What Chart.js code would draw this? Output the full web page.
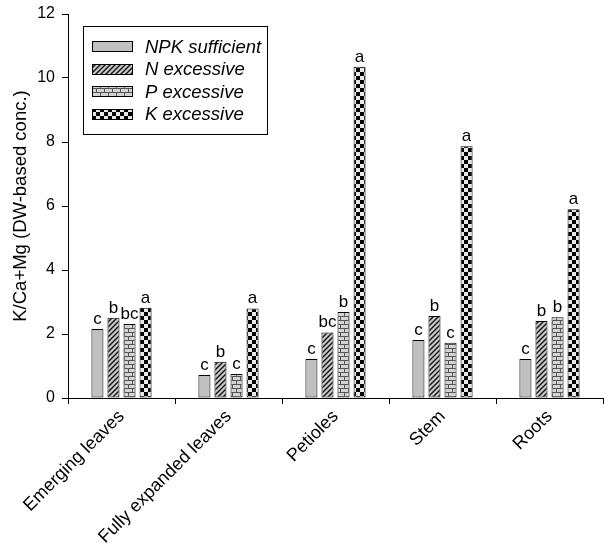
<!DOCTYPE html>
<html>
<head>
<meta charset="utf-8">
<script src="https://cdn.jsdelivr.net/npm/chart.js@4/dist/chart.umd.min.js"></script>
<style>
html,body{margin:0;padding:0;background:#fff;}
#wrap{width:604px;height:549px;position:relative;}
</style>
</head>
<body>
<div id="wrap"><canvas id="c" width="604" height="549"></canvas></div>
<script>
const categories = ['Emerging leaves', 'Fully expanded leaves', 'Petioles', 'Stem', 'Roots'];
const seriesNames = ['NPK sufficient', 'N excessive', 'P excessive', 'K excessive'];
const npkValues = [2.16, 0.72, 1.22, 1.81, 1.22];
const nValues   = [2.51, 1.13, 2.05, 2.56, 2.41];
const pValues   = [2.31, 0.75, 2.69, 1.73, 2.52];
const kValues   = [2.82, 2.80, 10.35, 7.87, 5.90];
const npkLetters = ['c', 'c', 'c', 'c', 'c'];
const nLetters   = ['b', 'b', 'bc', 'b', 'b'];
const pLetters   = ['bc', 'c', 'b', 'c', 'b'];
const kLetters   = ['a', 'a', 'a', 'a', 'a'];
const yTicks = [0, 2, 4, 6, 8, 10, 12];

const FONT = 'Arial, "Liberation Sans", sans-serif';

function makeTile(w, h, draw) {
  const cv = document.createElement('canvas');
  cv.width = w; cv.height = h;
  const g = cv.getContext('2d');
  draw(g, w, h);
  return cv;
}
const ctx = document.getElementById('c').getContext('2d');

const solidFill = '#c0c0c0';
const hatchTile = makeTile(5, 5, (g, w, h) => {
  g.fillStyle = '#c8c8c8'; g.fillRect(0, 0, w, h);
  g.strokeStyle = '#111'; g.lineWidth = 1.4;
  g.beginPath();
  g.moveTo(-1, h + 1); g.lineTo(w + 1, -1);
  g.moveTo(-1, 1); g.lineTo(1, -1);
  g.moveTo(w - 1, h + 1); g.lineTo(w + 1, h - 1);
  g.stroke();
});
const brickTile = makeTile(8, 8, (g, w, h) => {
  g.fillStyle = '#d4d4d4'; g.fillRect(0, 0, w, h);
  g.fillStyle = '#555';
  g.fillRect(0, 0, w, 1);
  g.fillRect(0, 4, w, 1);
  g.fillRect(0, 0, 1, 4);
  g.fillRect(4, 4, 1, 4);
});
const checkTile = makeTile(8, 8, (g, w, h) => {
  g.fillStyle = '#e8e8e8'; g.fillRect(0, 0, w, h);
  g.fillStyle = '#000';
  g.fillRect(0, 0, 4, 4);
  g.fillRect(4, 4, 4, 4);
});
const fills = [
  solidFill,
  ctx.createPattern(hatchTile, 'repeat'),
  ctx.createPattern(brickTile, 'repeat'),
  ctx.createPattern(checkTile, 'repeat')
];
const letterSets = [npkLetters, nLetters, pLetters, kLetters];
const valueSets = [npkValues, nValues, pValues, kValues];

const lettersPlugin = {
  id: 'letters',
  afterDatasetsDraw(chart) {
    const c = chart.ctx;
    c.save();
    c.fillStyle = '#000';
    c.font = '17px ' + FONT;
    c.textAlign = 'center';
    c.textBaseline = 'alphabetic';
    chart.data.datasets.forEach((ds, i) => {
      const meta = chart.getDatasetMeta(i);
      meta.data.forEach((el, j) => {
        c.fillText(letterSets[i][j], el.x, el.y - 5);
      });
    });
    c.restore();
  }
};

const legendPlugin = {
  id: 'boxLegend',
  afterDraw(chart) {
    const c = chart.ctx;
    c.save();
    c.strokeStyle = '#000';
    c.lineWidth = 1;
    c.strokeRect(83.5, 26.5, 184, 108);
    const centers = [46.5, 69, 91.5, 114];
    c.font = 'italic 18.5px ' + FONT;
    c.textBaseline = 'middle';
    c.textAlign = 'left';
    seriesNames.forEach((name, i) => {
      const y = Math.round(centers[i] - 5.5);
      c.fillStyle = fills[i];
      c.fillRect(92, y, 41, 11);
      c.strokeStyle = '#000';
      c.strokeRect(92.5, y + 0.5, 40, 10);
      c.fillStyle = '#000';
      c.fillText(name, 145, centers[i] + 1);
    });
    c.restore();
  }
};

new Chart(ctx, {
  type: 'bar',
  data: {
    labels: categories,
    datasets: seriesNames.map((n, i) => ({
      label: n,
      data: valueSets[i],
      backgroundColor: fills[i],
      borderColor: '#000',
      borderWidth: 1,
      borderSkipped: false,
      categoryPercentage: 0.6,
      barPercentage: 0.75
    }))
  },
  options: {
    responsive: false,
    animation: false,
    layout: { padding: { left: 0, top: 14, right: 1, bottom: 0 } },
    plugins: { legend: { display: false }, tooltip: { enabled: false } },
    scales: {
      x: {
        grid: { display: true, drawOnChartArea: false, drawTicks: true, tickLength: 6, color: '#000' },
        border: { display: true, color: '#000', width: 1 },
        ticks: { color: '#000', font: { family: FONT, size: 18 }, maxRotation: 45, minRotation: 45, padding: 2 },
        afterFit(scale) { scale.height = 151; scale.paddingLeft = 0; scale.paddingRight = 0; }
      },
      y: {
        min: 0, max: 12,
        afterBuildTicks(scale) { scale.ticks = yTicks.map(v => ({ value: v })); },
        grid: { display: true, drawOnChartArea: false, drawTicks: true, tickLength: 6, color: '#000' },
        border: { display: true, color: '#000', width: 1 },
        ticks: { color: '#000', font: { family: FONT, size: 16 }, padding: 7 },
        title: { display: true, text: 'K/Ca+Mg (DW-based conc.)', color: '#000', font: { family: FONT, size: 18.5 }, padding: { top: 10, bottom: 0 } },
        afterFit(scale) { scale.width = 68; scale.paddingTop = 0; scale.paddingBottom = 0; }
      }
    }
  },
  plugins: [lettersPlugin, legendPlugin]
});
</script>
</body>
</html>
